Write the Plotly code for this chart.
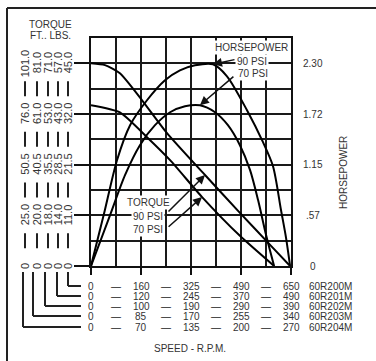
import plotly.graph_objects as go

# ---------------- data (speed in rpm on the 60R200M scale) ----------------
hp90_rpm = [0, 42, 84.5, 127, 182, 240.5, 289, 338, 396.5, 442, 507, 559, 591.5, 617.5, 634, 647]
hp90 = [0, 0.589, 1.201, 1.598, 1.881, 2.108, 2.221, 2.278, 2.289, 2.153, 1.768, 1.405, 1.133, 0.635, 0.317, 0]

hp70_rpm = [0, 62, 110.5, 159, 208, 257, 305.5, 354, 403, 445, 484, 517, 543, 569, 595]
hp70 = [0, 0.578, 1.031, 1.371, 1.598, 1.745, 1.813, 1.824, 1.745, 1.598, 1.371, 1.088, 0.748, 0.351, 0]

tq90_rpm = [0, 45.5, 94, 166, 247, 370.5, 484, 582, 647]
tq90 = [45.0, 44.6, 42.8, 36.8, 29.5, 20.2, 11.8, 4.7, 0]

tq70_rpm = [0, 94, 182, 257, 361, 484, 595]
tq70 = [35.7, 34.1, 28.6, 23.5, 15.3, 6.7, 0]

hp_ticks = [0, 0.575, 1.15, 1.725, 2.30]
hp_tick_text = ["0", ".57", "1.15", "1.72", "2.30"]

# torque columns (left to right) : models 60R204M .. 60R200M
torque_cols = [
    ["0", "25.0", "50.5", "76.0", "101.0"],
    ["0", "20.0", "40.5", "61.0", "81.0"],
    ["0", "18.0", "35.5", "53.0", "71.0"],
    ["0", "14.0", "28.5", "43.0", "57.0"],
    ["0", "11.0", "21.5", "32.0", "45.0"],
]

speed_rows = [
    ["0", "160", "325", "490", "650"],
    ["0", "120", "245", "370", "490"],
    ["0", "100", "190", "290", "390"],
    ["0", "85", "170", "255", "340"],
    ["0", "70", "135", "200", "270"],
]
models = ["60R200M", "60R201M", "60R202M", "60R203M", "60R204M"]
speed_major = [0, 162.5, 325, 487.5, 650]

# ---------------- layout helpers ----------------
W, H = 376, 361
L, R, T, B = 91, 291, 38, 266
HP_MAX = 2.30 * 9 / 8
TQ_MAX = 45.0 * 9 / 8
FONT = "Liberation Sans Narrow, Arial Narrow, Liberation Sans, Arial, sans-serif"
TXT = "#333333"


def px(x):
    return (x - L) / (R - L)


def py(y):
    return (B - y) / (B - T)


def label(x, y, text, xref="paper", yref="paper", size=10, angle=0, xanchor="center", bg=None, color=TXT):
    d = dict(x=x, y=y, xref=xref, yref=yref, text=text, showarrow=False, textangle=angle,
             xanchor=xanchor, yanchor="middle", font=dict(size=size, color=color, family=FONT))
    if bg:
        d["bgcolor"] = bg
    return d


fig = go.Figure()
line = dict(color="black", width=2)
fig.add_trace(go.Scatter(x=hp90_rpm, y=hp90, mode="lines", line=dict(shape="spline", smoothing=0.8, **line), yaxis="y"))
fig.add_trace(go.Scatter(x=hp70_rpm, y=hp70, mode="lines", line=dict(shape="spline", smoothing=0.8, **line), yaxis="y"))
fig.add_trace(go.Scatter(x=tq90_rpm, y=tq90, mode="lines", line=dict(shape="spline", smoothing=0.6, **line), yaxis="y2"))
fig.add_trace(go.Scatter(x=tq70_rpm, y=tq70, mode="lines", line=dict(shape="spline", smoothing=0.6, **line), yaxis="y2"))

ann = []
shapes = []

# HP labels on the right
for v, t in zip(hp_ticks, hp_tick_text):
    ann.append(label(px(313), v, t, yref="y"))
ann.append(label(px(343), py(173), "HORSEPOWER", angle=-90))

# torque columns on the left
col_x = [25, 37, 48, 58, 68]
for cx, vals in zip(col_x, torque_cols):
    for v, t in zip(hp_ticks, vals):
        ann.append(label(px(cx), v, t, yref="y", size=11, angle=-90))
    for k in range(4):
        yc = (hp_ticks[k] + hp_ticks[k + 1]) / 2
        shapes.append(dict(type="line", xref="paper", yref="y", x0=px(cx), x1=px(cx),
                           y0=yc - 0.085, y1=yc + 0.085, line=dict(color="#222", width=2)))
ann.append(label(px(50), py(25), "TORQUE"))
ann.append(label(px(50), py(35), "FT.. LBS."))

# speed rows at the bottom
row_y = [286, 296, 306, 316, 327]
brk_x = [68, 57, 45, 33, 23]
for ry, vals, m, bx in zip(row_y, speed_rows, models, brk_x):
    for s, t in zip(speed_major, vals):
        ann.append(label(s, py(ry), t, xref="x"))
    for k in range(4):
        sm = (speed_major[k] + speed_major[k + 1]) / 2
        ann.append(label(sm, py(ry), "\u2014", xref="x", color="#222"))
    ann.append(label(px(307), py(ry), m, xanchor="left"))
    shapes.append(dict(type="line", xref="paper", yref="paper", x0=px(bx), x1=px(bx),
                       y0=py(272), y1=py(ry), line=dict(color="#222", width=2)))
    shapes.append(dict(type="line", xref="paper", yref="paper", x0=px(bx), x1=px(81),
                       y0=py(ry), y1=py(ry), line=dict(color="#222", width=2)))

ann.append(label(px(190), py(348), "SPEED - R.P.M."))

# curve labels
ann.append(label(px(251), py(47), "HORSEPOWER", bg="white"))
ann.append(label(px(252), py(61), "90 PSI", bg="white"))
ann.append(label(px(253), py(73), "70 PSI", bg="white"))
ann.append(label(px(148), py(203), "TORQUE", bg="white"))
ann.append(label(px(148), py(216), "90 PSI", bg="white"))
ann.append(label(px(148), py(229), "70 PSI", bg="white"))

arrow = dict(showarrow=True, arrowhead=2, arrowsize=1.2, arrowwidth=1.5, arrowcolor="#111", text="")
ann.append(dict(x=hp90_rpm[8], y=hp90[8], xref="x", yref="y", ax=236 - 213, ay=61 - 66, **arrow))
ann.append(dict(x=hp70_rpm[7], y=hp70[7], xref="x", yref="y", ax=237 - 202, ay=75 - 105, **arrow))
ann.append(dict(x=tq90_rpm[5], y=tq90[5], xref="x", yref="y2", ax=167 - 205, ay=213 - 175, **arrow))
ann.append(dict(x=tq70_rpm[4], y=tq70[4], xref="x", yref="y2", ax=167 - 202, ay=228 - 197, **arrow))

# outer frame (left and top)
shapes.append(dict(type="line", xref="paper", yref="paper", x0=px(7), x1=px(7), y0=py(8), y1=py(361),
                   line=dict(color="#222", width=2)))
shapes.append(dict(type="line", xref="paper", yref="paper", x0=px(7), x1=px(376), y0=py(8), y1=py(8),
                   line=dict(color="#222", width=2)))

grid = "#1a1a1a"
fig.update_layout(
    width=W, height=H,
    margin=dict(l=L, r=W - R, t=T, b=H - B, pad=0),
    paper_bgcolor="white", plot_bgcolor="white",
    showlegend=False,
    xaxis=dict(range=[0, 650], tickvals=speed_major, showticklabels=False, ticks="outside", ticklen=7,
               tickwidth=2, tickcolor="#111", showgrid=True, gridcolor=grid, gridwidth=1.5,
               minor=dict(dtick=81.25, tick0=0, showgrid=True, gridcolor=grid, gridwidth=1.5),
               showline=True, mirror=True, linecolor="#111", linewidth=2, zeroline=False, fixedrange=True),
    yaxis=dict(range=[0, HP_MAX], tickvals=hp_ticks, showticklabels=False, ticks="outside", ticklen=15,
               tickwidth=2, tickcolor="#111", showgrid=True, gridcolor=grid, gridwidth=1.5,
               minor=dict(dtick=HP_MAX / 9, tick0=0, showgrid=True, gridcolor=grid, gridwidth=1.5),
               showline=True, mirror=True, linecolor="#111", linewidth=2, zeroline=False, fixedrange=True),
    yaxis2=dict(range=[0, TQ_MAX], overlaying="y", side="right", visible=False, fixedrange=True),
    annotations=ann,
    shapes=shapes,
)
fig.write_html("out.html", config={"displayModeBar": False},
               post_script="document.body.style.margin='0';")
